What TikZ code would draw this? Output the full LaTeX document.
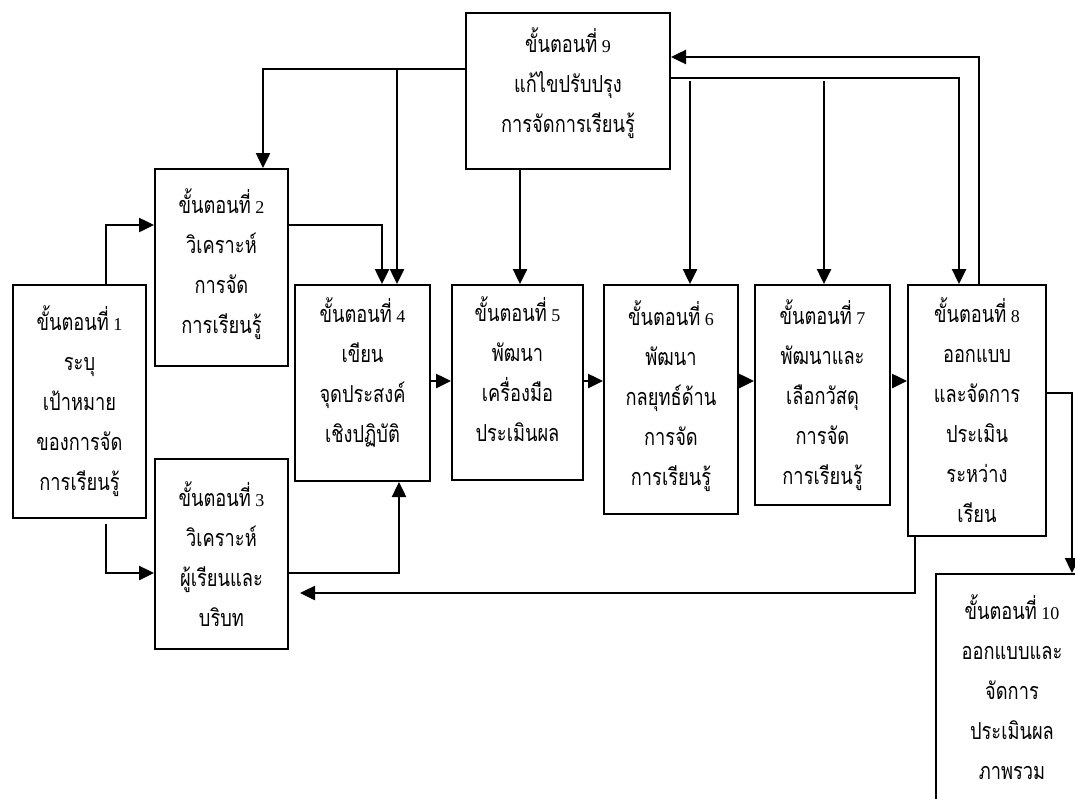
\documentclass[tikz,border=0pt]{standalone}
\usepackage{fontspec}
\setmainfont{Liberation Serif}
\newfontfamily\thaifont[Script=Thai,FakeStretch=0.78,Scale=1.3]{Loma}
\usetikzlibrary{arrows.meta}
\newcommand\tha[1]{{\thaifont #1}}
\begin{document}
\begin{tikzpicture}[x=1pt,y=-1pt,
  box/.style={draw=black, line width=2pt, rectangle, anchor=north west, align=center,
    inner sep=0pt, font=\fontsize{18}{40}\selectfont},
  lift/.style={text depth=#1},
  conn/.style={line width=2.5pt, -{Triangle[length=15pt,width=14pt]}}
]
\useasboundingbox (0,0) rectangle (1075,798);
\fill[white] (0,0) rectangle (1075,798);

\node[box, minimum width=133pt, minimum height=233pt] (b1) at (12,284)
  {\tha{ขั้นตอนที่} 1\\\tha{ระบุ}\\\tha{เป้าหมาย}\\\tha{ของการจัด}\\\tha{การเรียนรู้}};
\node[box, lift=12pt, minimum width=133pt, minimum height=197pt] (b2) at (154,168)
  {\tha{ขั้นตอนที่} 2\\\tha{วิเคราะห์}\\\tha{การจัด}\\\tha{การเรียนรู้}};
\node[box, minimum width=133pt, minimum height=190pt] (b3) at (154,458)
  {\tha{ขั้นตอนที่} 3\\\tha{วิเคราะห์}\\\tha{ผู้เรียนและ}\\\tha{บริบท}};
\node[box, lift=26pt, minimum width=135pt, minimum height=196pt] (b4) at (294,284)
  {\tha{ขั้นตอนที่} 4\\\tha{เขียน}\\\tha{จุดประสงค์}\\\tha{เชิงปฏิบัติ}};
\node[box, lift=26pt, minimum width=131pt, minimum height=195pt] (b5) at (451,284)
  {\tha{ขั้นตอนที่} 5\\\tha{พัฒนา}\\\tha{เครื่องมือ}\\\tha{ประเมินผล}};
\node[box, lift=12pt, minimum width=134pt, minimum height=229pt] (b6) at (603,284)
  {\tha{ขั้นตอนที่} 6\\\tha{พัฒนา}\\\tha{กลยุทธ์ด้าน}\\\tha{การจัด}\\\tha{การเรียนรู้}};
\node[box, minimum width=135pt, minimum height=220pt] (b7) at (754,284)
  {\tha{ขั้นตอนที่} 7\\\tha{พัฒนาและ}\\\tha{เลือกวัสดุ}\\\tha{การจัด}\\\tha{การเรียนรู้}};
\node[box, minimum width=138pt, minimum height=251pt] (b8) at (907,284)
  {\tha{ขั้นตอนที่} 8\\\tha{ออกแบบ}\\\tha{และจัดการ}\\\tha{ประเมิน}\\\tha{ระหว่าง}\\\tha{เรียน}};
\node[box, lift=22pt, minimum width=204pt, minimum height=156pt] (b9) at (465,12)
  {\tha{ขั้นตอนที่} 9\\\tha{แก้ไขปรับปรุง}\\\tha{การจัดการเรียนรู้}};
\node[box, minimum width=152pt, minimum height=227pt] (b10) at (935,573)
  {\tha{ขั้นตอนที่} 10\\\tha{ออกแบบและ}\\\tha{จัดการ}\\\tha{ประเมินผล}\\\tha{ภาพรวม}};

\coordinate (p1) at (106,225);
\coordinate (p2) at (106,573);
\coordinate (p3) at (382,225);
\coordinate (p4) at (399,573);
\coordinate (p5) at (263,69);
\coordinate (p6) at (397,69);
\coordinate (p7) at (520,0);
\coordinate (p8) at (959,78);
\coordinate (p9) at (690,81);
\coordinate (p10) at (824,81);
\coordinate (p11) at (979,57);
\coordinate (p12) at (0,381);
\coordinate (p13) at (1072,393);
\coordinate (p14) at (915,593);

\draw[conn] (b1.north -| p1) |- (b2.west |- p1);
\draw[conn, shorten <=5pt] (b1.south -| p2) |- (b3.west |- p2);
\draw[conn] (b2.east |- p3) -| (b4.north -| p3);
\draw[conn] (b3.east |- p4) -| (b4.south -| p4);
\draw[conn] (b9.west |- p5) -| (b2.north -| p5);
\draw[conn] (p6) -- (b4.north -| p6);
\draw[conn] (b9.south -| p7) -- (b5.north -| p7);
\draw[conn] (b9.east |- p8) -| (b8.north -| p8);
\draw[conn] (p9) -- (b6.north -| p9);
\draw[conn] (p10) -- (b7.north -| p10);
\draw[conn] (b8.north -| p11) |- (b9.east |- p11);
\draw[conn] (b4.east |- p12) -- (b5.west |- p12);
\draw[conn] (b5.east |- p12) -- (b6.west |- p12);
\draw[conn] (b6.east |- p12) -- (b7.west |- p12);
\draw[conn, shorten <=3pt] (b7.east |- p12) -- (b8.west |- p12);
\draw[conn] (b8.east |- p13) -| (b10.north -| p13);
\draw[conn, shorten >=11pt] (b8.south -| p14) |- (b3.east |- p14);
\end{tikzpicture}
\end{document}
